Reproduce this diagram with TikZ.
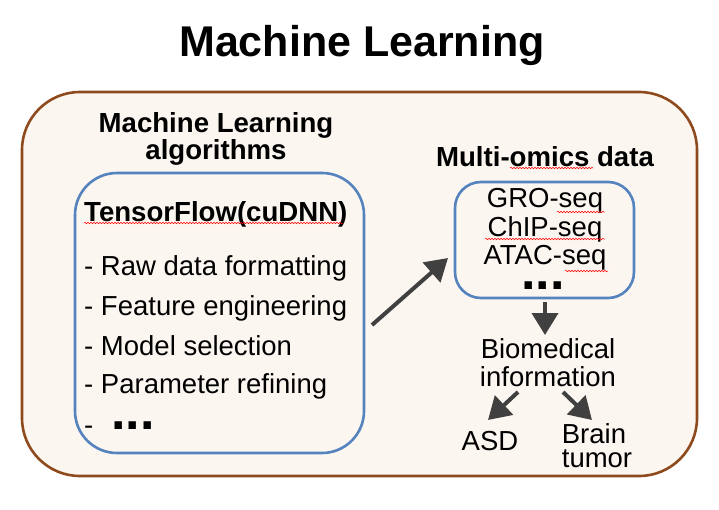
\documentclass[tikz,border=0pt]{standalone}
\usepackage{fontspec}
\setmainfont{Liberation Sans}
\usetikzlibrary{arrows.meta,decorations.pathmorphing}
\definecolor{outerbrown}{HTML}{8E4A1C}
\definecolor{cream}{HTML}{FCF6F1}
\definecolor{boxblue}{HTML}{5483BE}
\definecolor{arrowgray}{HTML}{404040}
\tikzset{
  outerbox/.style={draw=outerbrown, line width=2.6pt, fill=cream, rounded corners=58pt},
  bluebox/.style={draw=boxblue, line width=2.6pt, rounded corners=#1},
  bigarrow/.style={draw=arrowgray, line width=4pt, -{Triangle[length=22pt,width=26pt]}},
  title/.style={font=\fontsize{43}{48}\selectfont\bfseries},
  head/.style={font=\fontsize{27.6}{25}\selectfont\bfseries, align=center},
  body/.style={font=\fontsize{27.5}{28}\selectfont, align=center},
  item/.style={font=\fontsize{27.5}{30}\selectfont, anchor=west, inner sep=0pt},
  dotsfont/.style={font=\fontsize{52}{52}\selectfont\bfseries, inner sep=0pt, text height=8pt, text depth=0pt},
  squig/.style={draw=red, line width=0.5pt, decorate, decoration={snake, amplitude=0.8pt, segment length=3pt}}
}
\begin{document}
\begin{tikzpicture}[x=1pt,y=-1pt]
\useasboundingbox (0,0) rectangle (719,509);
\fill[white] (0,0) rectangle (719,509);
\node[title] (title) at (362,45) {Machine Learning};
\path[outerbox] (22,92) rectangle (697,476);
% left part
\node[head] (alghead) at (216,139) {Machine Learning\\algorithms};
\path[bluebox=42pt] (75,173) rectangle (364,453);
\node[head, anchor=west, inner sep=0pt] (tf) at (84,214) {TensorFlow(cuDNN)};
\node[item] (i1) at (84,268) {- Raw data formatting};
\node[item] (i2) at (84,308) {- Feature engineering};
\node[item] (i3) at (84,346) {- Model selection};
\node[item] (i4) at (84,386) {- Parameter refining};
\node[item, anchor=base west] (i5) at (84,434) {-};
\node[dotsfont, anchor=base west] (i5d) at (111,429) {...};
% right part
\node[head] (omhead) at (545,157) {Multi-omics data};
\path[bluebox=26pt] (455,182) rectangle (634,298);
\node[body] (gro) at (545,201) {GRO-seq};
\node[body] (chip) at (545,229) {ChIP-seq};
\node[body] (atac) at (545,258) {ATAC-seq};
\node[dotsfont, anchor=base] (dots) at (543,289) {...};
\coordinate (ombox) at (448,258);
\coordinate (leftbox) at (372,325);
\draw[bigarrow] (leftbox) -- (ombox);
\coordinate (omb) at (545,302);
\node[body] (bio) at (548,363) {Biomedical\\information};
\draw[bigarrow] (omb) -- (545,335);
\node[body] (asd) at (490,441) {ASD};
\node[body, align=left, font=\fontsize{27.5}{24}\selectfont] (brain) at (597,446) {Brain\\tumor};
\coordinate (b1) at (518,392);
\coordinate (b2) at (563,392);
\draw[bigarrow] (b1) -- (488,420);
\draw[bigarrow] (b2) -- (592,420);
% spell-check squiggles
\draw[squig] (84,223) -- (343,223);
\draw[squig] (510,168) -- (593,168);
\draw[squig] (557,212) -- (605,212);
\draw[squig] (485,239) -- (605,239);
\draw[squig] (565,271) -- (608,271);
\end{tikzpicture}
\end{document}
